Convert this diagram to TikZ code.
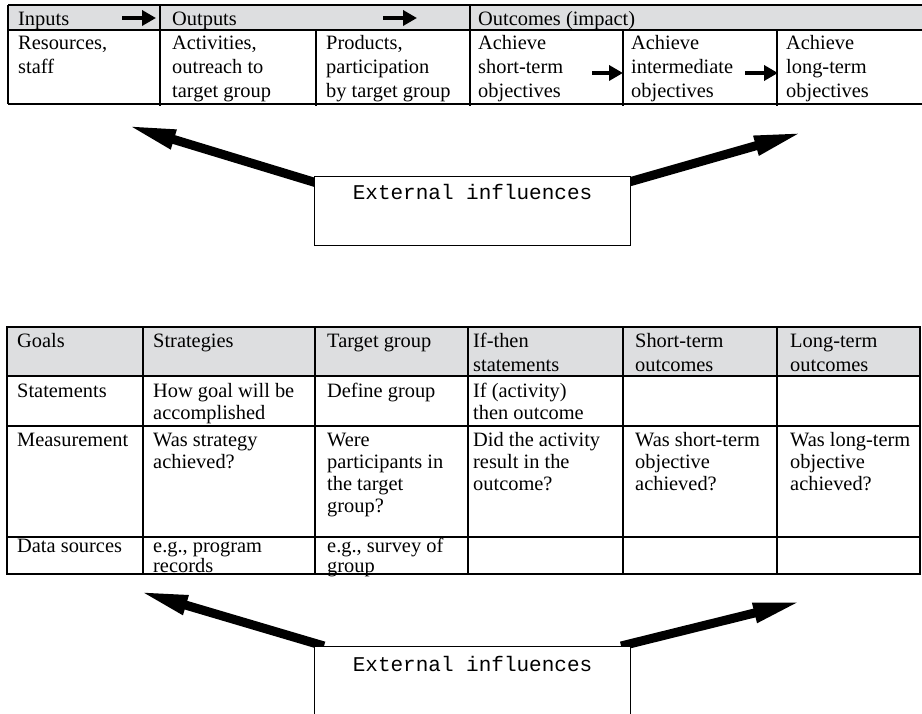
\documentclass[tikz,border=0pt]{standalone}
\usepackage{fontspec}
\setmainfont{Liberation Serif}
\setmonofont{Liberation Mono}
\usetikzlibrary{arrows.meta,backgrounds}
\definecolor{hdrgray}{RGB}{221,222,224}
\newcommand\cellbox[2]{{\fontsize{20.4}{#1}\selectfont\begin{tabular}[t]{@{}l@{}}#2\end{tabular}}}
\begin{document}
\begin{tikzpicture}[x=1pt,y=-1pt,
  tl/.style={line width=1.1pt},
  txt/.style={anchor=base west, inner sep=0pt, font=\fontsize{20.4}{24}\selectfont},
  mono/.style={anchor=base, inner sep=0pt, font=\fontsize{21}{24}\ttfamily},
  extbox/.style={draw, line width=1.1pt, fill=white, anchor=north west, inner sep=0pt, minimum width=316pt},
  bigarrow/.style={line width=9pt, -{Triangle[length=50pt,width=18pt]}},
  smallarrow/.style={line width=4.5pt, -{Triangle[length=14pt,width=15pt]}}
]
\useasboundingbox (0,0) rectangle (922,714);

% ---------- top table ----------
\fill[hdrgray] (8,5) rectangle (922,30);
\draw[tl] (8,5) -- (922,5);
\draw[tl] (8,30) -- (922,30);
\draw[tl] (8,104) -- (922,104);
\draw[tl] (8,5) -- (8,104);
\draw[tl] (160,5) -- (160,106);
\draw[tl] (470,5) -- (470,106);
\draw[tl] (316,30) -- (316,106);
\draw[tl] (623,30) -- (623,106);
\draw[tl] (777,30) -- (777,106);

\node[txt] (inputs) at (18,26) {Inputs};
\node[txt] (outputs) at (172,26) {Outputs};
\node[txt] (outcomes) at (478,26) {Outcomes (impact)};

\coordinate (ha1s) at (122,18); \coordinate (ha1e) at (156,18);
\coordinate (ha2s) at (383,18); \coordinate (ha2e) at (417,18);
\draw[smallarrow] (ha1s) -- (ha1e);
\draw[smallarrow] (ha2s) -- (ha2e);

\node[txt] (res) at (18,50) {\cellbox{24}{Resources,\\staff}};
\node[txt] (act) at (172,50) {\cellbox{24}{Activities,\\outreach to\\target group}};
\node[txt] (prod) at (326,50) {\cellbox{24}{Products,\\participation\\by target group}};
\node[txt] (ach1) at (478,50) {\cellbox{24}{Achieve\\short-term\\objectives}};
\node[txt] (ach2) at (631,50) {\cellbox{24}{Achieve\\intermediate\\objectives}};
\node[txt] (ach3) at (786,50) {\cellbox{24}{Achieve\\long-term\\objectives}};

\coordinate (ba1s) at (592,73); \coordinate (ba1e) at (623,73);
\coordinate (ba2s) at (745,73); \coordinate (ba2e) at (778,73);
\draw[smallarrow] (ba1s) -- (ba1e);
\draw[smallarrow] (ba2s) -- (ba2e);

% ---------- top external box ----------
\node[extbox, minimum height=69pt] (ext1) at (314,176) {};
\node[mono] (ext1t) at ([yshift=-24pt]ext1.north) {External influences};
\coordinate (tipL1) at (126,125);
\coordinate (tipR1) at (804,132);
\begin{scope}[on background layer]
\draw[bigarrow] ([shift={(16,11)}]ext1.north west) -- (tipL1);
\draw[bigarrow] ([shift={(-16,10)}]ext1.north east) -- (tipR1);
\end{scope}

% ---------- second table ----------
\fill[hdrgray] (7,327) rectangle (920,376);
\draw[tl] (7,327) rectangle (920,574);
\foreach \yy in {376,426,537} \draw[tl] (7,\yy) -- (920,\yy);
\foreach \xx in {143,315,468,623,777} \draw[tl] (\xx,327) -- (\xx,574);

\node[txt] (goals) at (17,348) {Goals};
\node[txt] (strat) at (153,348) {Strategies};
\node[txt] (tgt) at (327,348) {Target group};
\node[txt] (ifthen) at (473,348) {\cellbox{24}{If-then\\statements}};
\node[txt] (sto) at (635,348) {\cellbox{24}{Short-term\\outcomes}};
\node[txt] (lto) at (790,348) {\cellbox{24}{Long-term\\outcomes}};

\node[txt] (stmt) at (17,397) {Statements};
\node[txt] (howgoal) at (153,397) {\cellbox{22}{How goal will be\\accomplished}};
\node[txt] (defgrp) at (327,397) {Define group};
\node[txt] (ifact) at (473,397) {\cellbox{22}{If (activity)\\then outcome}};

\node[txt] (meas) at (17,446) {Measurement};
\node[txt] (wasstrat) at (153,446) {\cellbox{22.3}{Was strategy\\achieved?}};
\node[txt] (werep) at (327,446) {\cellbox{22.3}{Were\\participants in\\the target\\group?}};
\node[txt] (didact) at (473,446) {\cellbox{22.3}{Did the activity\\result in the\\outcome?}};
\node[txt] (wasst) at (635,446) {\cellbox{22.3}{Was short-term\\objective\\achieved?}};
\node[txt] (waslt) at (790,446) {\cellbox{22.3}{Was long-term\\objective\\achieved?}};

\node[txt] (datas) at (17,552) {Data sources};
\node[txt] (eg1) at (153,552) {\cellbox{20}{e.g., program\\records}};
\node[txt] (eg2) at (327,552) {\cellbox{20}{e.g., survey of\\group}};

% ---------- bottom external box ----------
\node[extbox, minimum height=100pt] (ext2) at (314,646) {};
\node[mono] (ext2t) at ([yshift=-25pt]ext2.north) {External influences};
\coordinate (tipL2) at (138,591);
\coordinate (tipR2) at (803,601);
\begin{scope}[on background layer]
\draw[bigarrow] ([shift={(10,0)}]ext2.north west) -- (tipL2);
\draw[bigarrow] ([shift={(-10,0)}]ext2.north east) -- (tipR2);
\end{scope}
\end{tikzpicture}
\end{document}
